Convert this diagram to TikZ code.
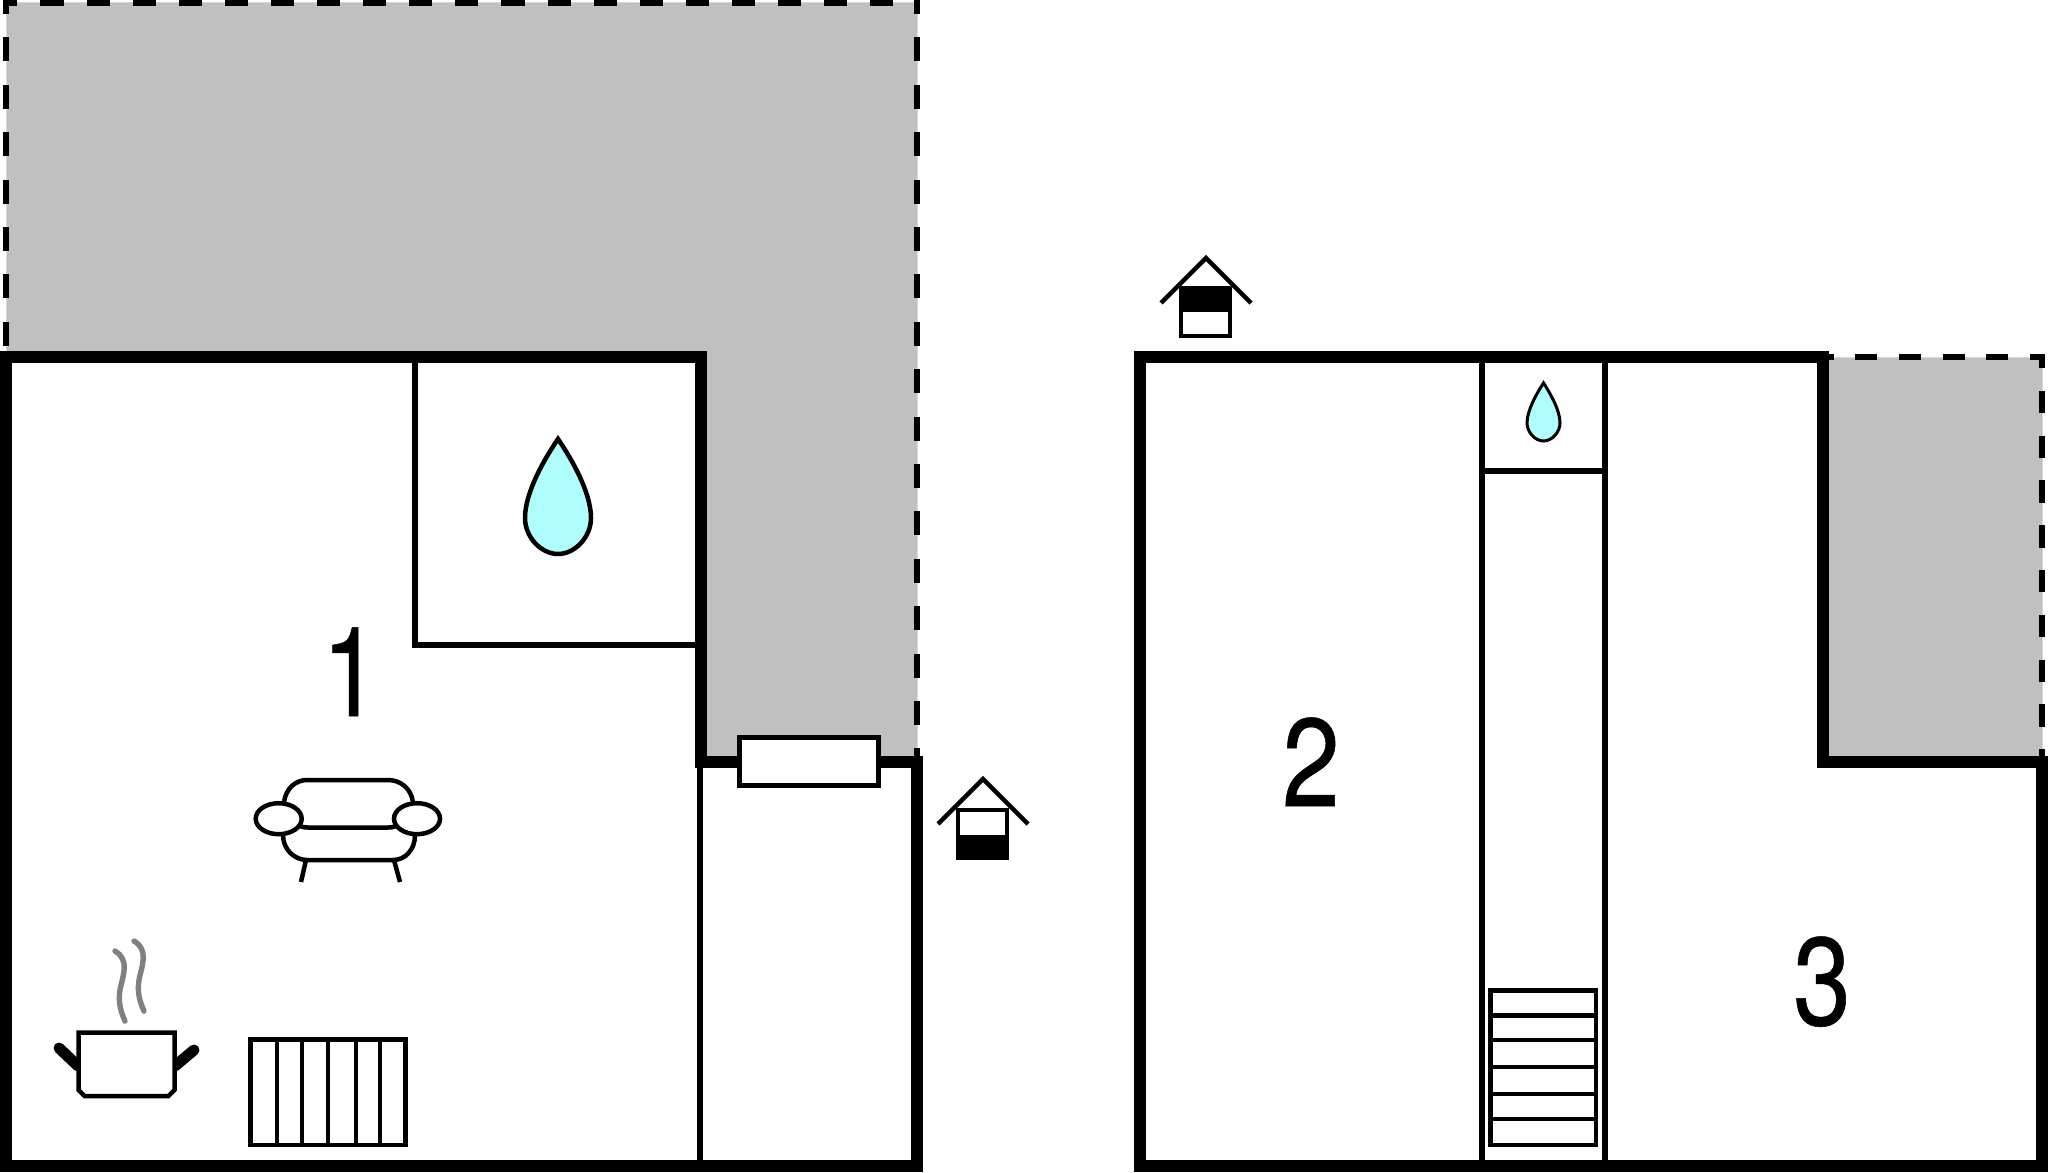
\documentclass[tikz,border=0pt]{standalone}
\usepackage{fontspec}
\setmainfont{TeX Gyre Heros}
\newfontfamily\digitfont[FakeStretch=0.83,FakeBold=0.4]{TeX Gyre Heros}
\definecolor{terrace}{HTML}{C0C0C0}
\definecolor{terraceedge}{HTML}{D8D8D8}
\definecolor{water}{HTML}{B0FFFF}
\definecolor{steam}{HTML}{808080}
\tikzset{
  terracefill/.style={fill=terrace,draw=terraceedge,line width=0.5pt},
  wall/.style={line width=6pt,line join=miter,line cap=butt},
  inner wall/.style={line width=3pt},
  item/.style={line width=2.25pt,line join=miter},
  sofa line/.style={line width=2.25pt},
  edgehoriz/.style={line width=2.85pt,dash pattern=on 11.55pt off 11.5pt,dash phase=4.35pt},
  edgevert/.style={line width=2.85pt,dash pattern=on 12pt off 11.7pt,dash phase=5pt},
  smallhoriz/.style={line width=2.85pt,dash pattern=on 11pt off 10.85pt,dash phase=3.5pt},
  smallvert/.style={line width=2.85pt,dash pattern=on 11.2pt off 11.2pt,dash phase=4.05pt},
  number/.style={font=\digitfont\fontsize{62.5pt}{62.5pt}\selectfont,inner sep=0pt,anchor=base},
  steamline/.style={draw=steam,line width=2.7pt,line cap=round},
  handle/.style={line width=5.5pt,line cap=round},
}
\begin{document}
\begin{tikzpicture}[x=0.5pt,y=-0.5pt]
\useasboundingbox (0,0) rectangle (2048,1172);
% terraces
\path[terracefill] (6,3) -- (917,3) -- (917,761) -- (701,761) -- (701,357) -- (6,357) -- cycle;
\path[terracefill] (1822,357) -- (2042,357) -- (2042,761) -- (1822,761) -- cycle;
% dashed edges
\draw[edgehoriz] (3,2.8) -- (920,2.8);
\draw[edgevert] (916.7,0) -- (916.7,756);
\draw[edgevert] (5.8,0) -- (5.8,352);
\draw[smallhoriz] (2045,357) -- (1822,357);
\draw[smallvert] (2042,354) -- (2042,761);
% interior walls
\draw[inner wall] (414.5,357) -- (414.5,644.5) -- (701,644.5);
\draw[inner wall] (700,761) -- (700,1166);
\draw[inner wall] (1482,357) -- (1482,1166);
\draw[inner wall] (1605,357) -- (1605,1166);
\draw[inner wall] (1482,471) -- (1605,471);
% outer walls
\draw[wall] (6,357) -- (701,357) -- (701,761.5) -- (916.5,761.5) -- (916.5,1166) -- (6,1166) -- cycle;
\draw[wall] (1140,357) -- (1822.5,357) -- (1822.5,761.5) -- (2042,761.5) -- (2042,1166) -- (1140,1166) -- cycle;
% window
\draw[item,fill=white] (739.5,737.5) rectangle (878.5,785.5);
% numbers
\node[number] (n1) at (351,716) {1};
\node[number] (n2) at (1311,806) {2};
\node[number] (n3) at (1822,1025) {3};
% drops
\draw[item,fill=water] (558,439) .. controls (545,458) and (525,492) .. (525,518) .. controls (525,537) and (541,554) .. (558,554) .. controls (575,554) and (591,537) .. (591,518) .. controls (591,492) and (571,458) .. (558,439) -- cycle;
\draw[line width=1.5pt,fill=water] (1543.5,383) .. controls (1537,393) and (1527,410) .. (1527,423) .. controls (1527,432) and (1535,441) .. (1543.5,441) .. controls (1552,441) and (1560,432) .. (1560,423) .. controls (1560,410) and (1550,393) .. (1543.5,383) -- cycle;
% sofa
\draw[sofa line] (284,802) .. controls (286,788) and (296,780) .. (307,780) -- (388,780) .. controls (400,780) and (411,788) .. (413,802);
\draw[sofa line] (298,825) .. controls (302,827) and (304,827.5) .. (308,827.5) -- (388,827.5) .. controls (392,827.5) and (394,827) .. (398,825);
\draw[sofa line] (283,835) .. controls (283,850) and (295,860) .. (307,860) -- (393,860) .. controls (405,860) and (415,850) .. (415,835);
\draw[sofa line] (306,860) -- (301,882);
\draw[sofa line] (394,860) -- (400,882);
\draw[sofa line,fill=white] (278.7,818.7) ellipse [x radius=23,y radius=15.5];
\draw[sofa line,fill=white] (417,818.7) ellipse [x radius=23,y radius=15.5];
% pot
\draw[handle] (59,1048) -- (78,1066);
\draw[handle] (194,1050) -- (175,1066);
\draw[item,fill=white] (78.5,1032.5) -- (174.5,1032.5) -- (174.5,1090) -- (168.5,1096) -- (84.5,1096) -- (78.5,1090) -- cycle;
\draw[steamline] (115,951) .. controls (130,960) and (123,975) .. (120,990) .. controls (118,1003) and (121,1012) .. (125,1021);
\draw[steamline] (134,941) .. controls (149,950) and (142,965) .. (139,980) .. controls (137,993) and (140,1002) .. (144,1011);
% radiator
\draw[item] (250.5,1039.5) rectangle (405.5,1145);
\draw[item] (277,1039.5) -- (277,1145) (302,1039.5) -- (302,1145) (328,1039.5) -- (328,1145) (356,1039.5) -- (356,1145) (380,1039.5) -- (380,1145);
% stairs
\draw[item] (1490.5,990.5) rectangle (1596,1145);
\draw[item] (1490.5,1015.7) -- (1596,1015.7) (1490.5,1040) -- (1596,1040) (1490.5,1067) -- (1596,1067) (1490.5,1094) -- (1596,1094) (1490.5,1119) -- (1596,1119);
% house icons
\fill (956,808) rectangle (1009,860);
\fill[white] (960,812) rectangle (1005,835);
\draw[item] (938,824) -- (983,779) -- (1028,824);
\fill (1179,286) rectangle (1232,338);
\fill[white] (1183,312) rectangle (1228,334);
\draw[item] (1161,303) -- (1206,258) -- (1251,303);
\end{tikzpicture}
\end{document}
